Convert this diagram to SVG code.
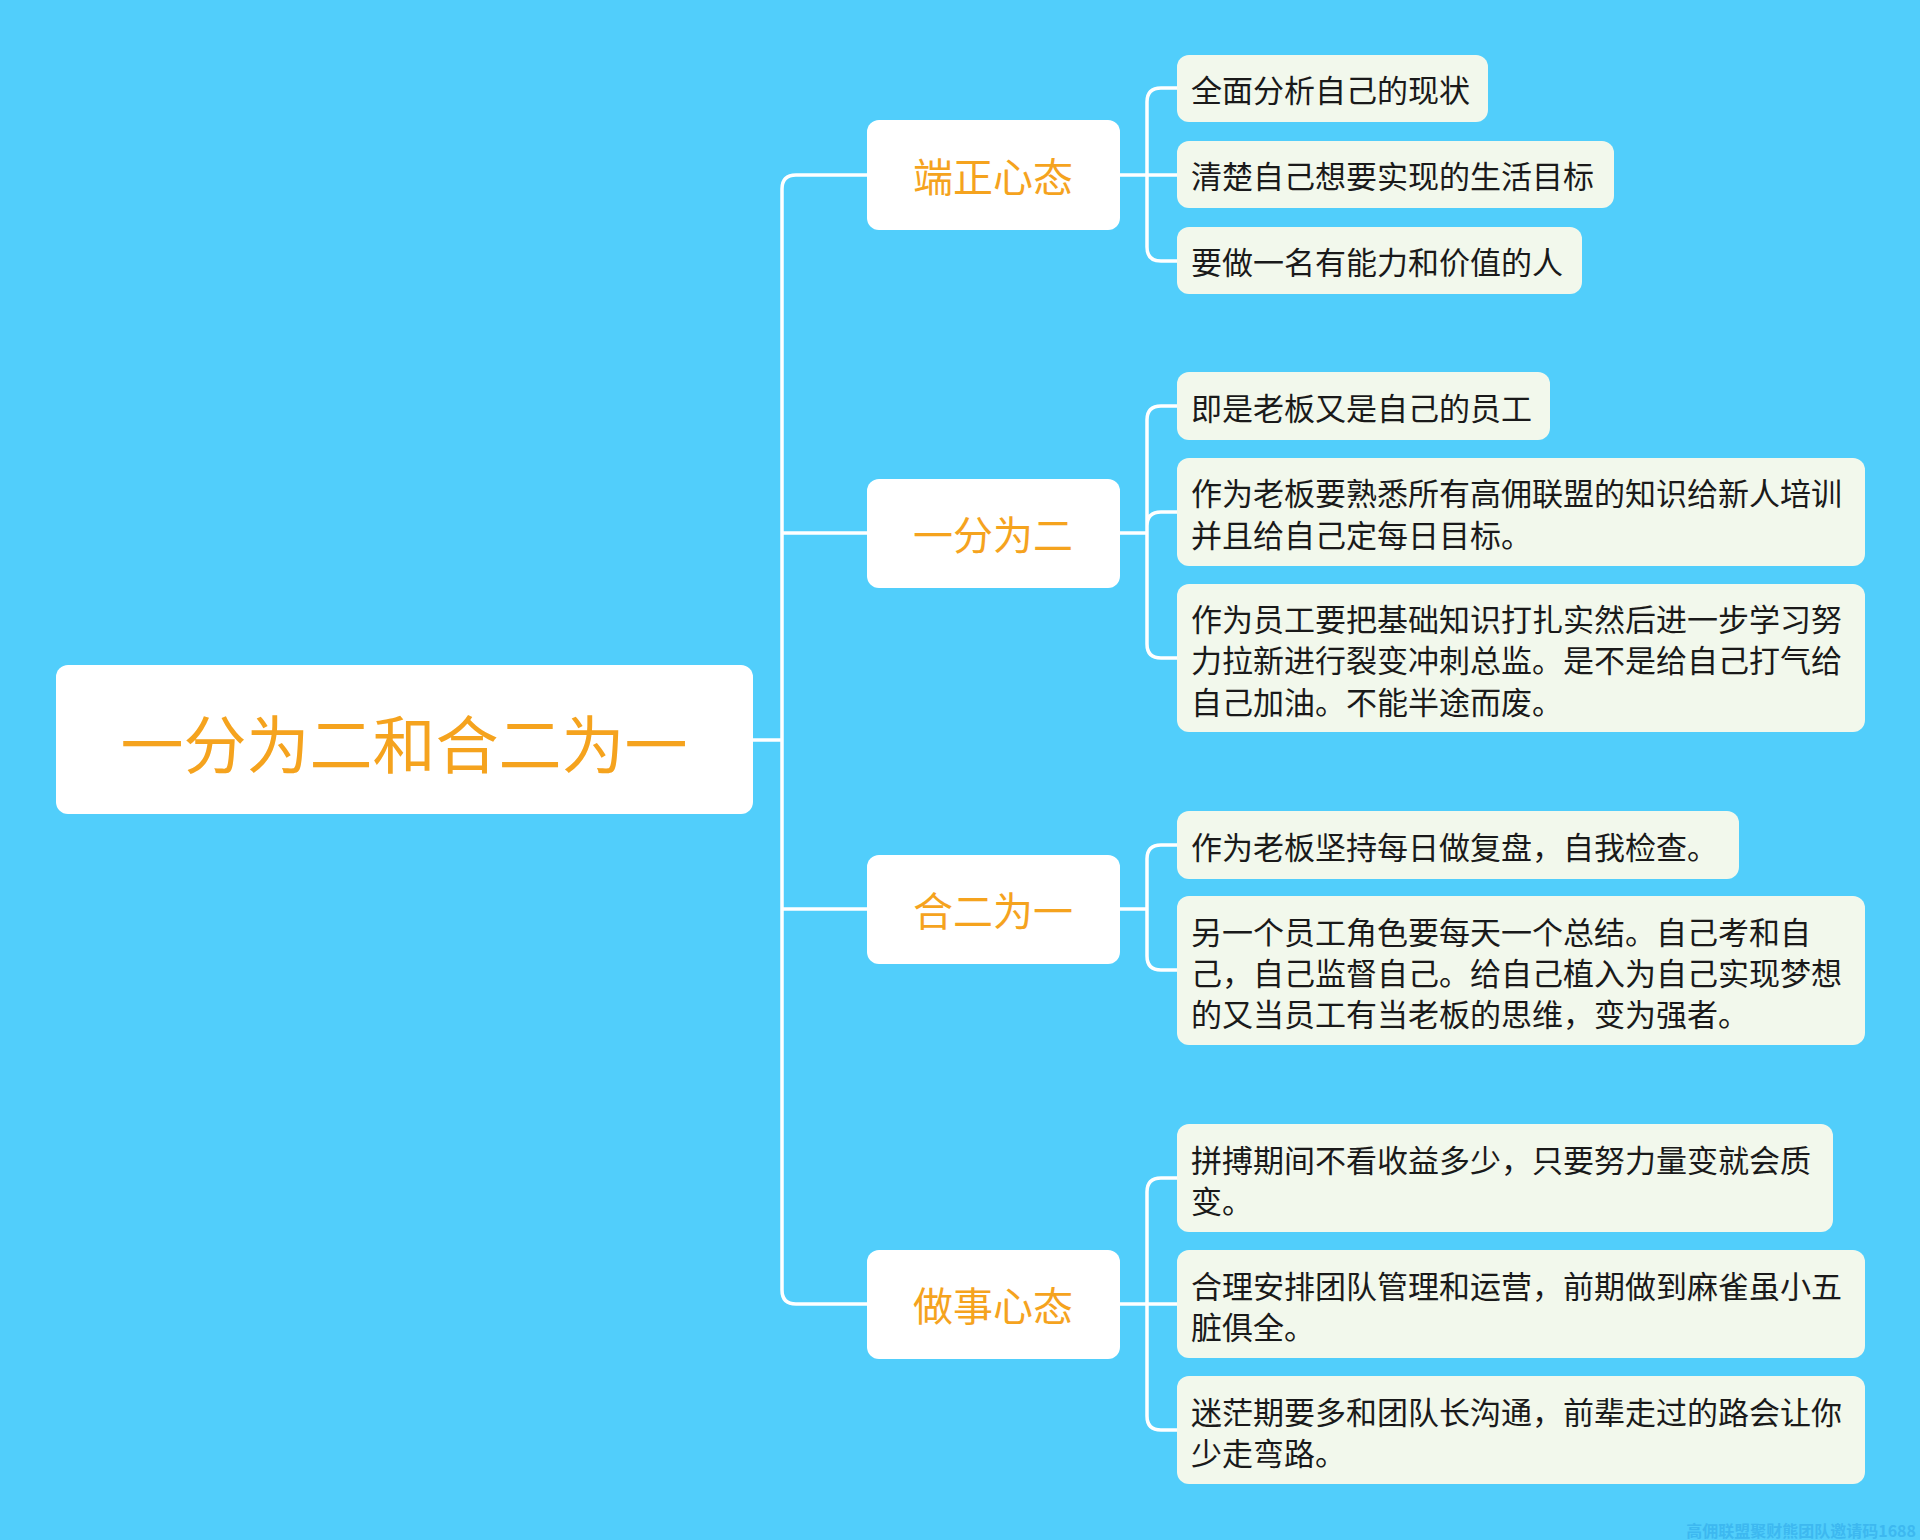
<svg xmlns="http://www.w3.org/2000/svg" width="1920" height="1540" viewBox="0 0 1920 1540">
<style>
.c{fill:none;stroke:#fff;stroke-width:3.5}
.b{fill:#fff}
.l{fill:#F2F8EC}
.bt{font-family:"Noto Sans CJK SC",sans-serif;fill:#F5A31E;text-anchor:middle;dominant-baseline:central}
.lt{font-family:"Noto Sans CJK SC",sans-serif;fill:#1a1a1a;font-size:31px;dominant-baseline:central}
</style>
<rect width="1920" height="1540" fill="#51CEFB"/>
<g id="connectors">
<path class="c" d="M753,740 H782"/>
<path class="c" d="M867,175 H796 Q782,175 782,189 V1290 Q782,1304 796,1304 H867"/>
<path class="c" d="M782,533 H867 M782,909 H867"/>
<path class="c" d="M1120,175 H1147 M1147,175 V102 Q1147,88 1161,88 H1177 M1147,175 H1177 M1147,175 V247 Q1147,261 1161,261 H1177"/>
<path class="c" d="M1120,533 H1147 M1147,533 V420 Q1147,406 1161,406 H1177 M1147,533 V526 Q1147,512 1161,512 H1177 M1147,533 V644 Q1147,658 1161,658 H1177"/>
<path class="c" d="M1120,909 H1147 M1147,909 V859 Q1147,845 1161,845 H1177 M1147,909 V956 Q1147,970 1161,970 H1177"/>
<path class="c" d="M1120,1304 H1147 M1147,1304 V1192 Q1147,1178 1161,1178 H1177 M1147,1304 H1177 M1147,1304 V1416 Q1147,1430 1161,1430 H1177"/>
</g>
<g id="root"><rect class="b" x="56" y="665" width="697" height="149" rx="12"/><text class="bt" x="404" y="740" font-size="63">一分为二和合二为一</text></g>
<g id="b1"><rect class="b" x="867" y="120" width="253" height="110" rx="12"/><text class="bt" x="993" y="175" font-size="40">端正心态</text></g>
<g id="b2"><rect class="b" x="867" y="479" width="253" height="109" rx="12"/><text class="bt" x="993" y="533" font-size="40">一分为二</text></g>
<g id="b3"><rect class="b" x="867" y="855" width="253" height="109" rx="12"/><text class="bt" x="993" y="909" font-size="40">合二为一</text></g>
<g id="b4"><rect class="b" x="867" y="1250" width="253" height="109" rx="12"/><text class="bt" x="993" y="1304" font-size="40">做事心态</text></g>
<g id="l1"><rect class="l" x="1177" y="55" width="311" height="67" rx="12"/><text class="lt" x="1191" y="88">全面分析自己的现状</text></g>
<g id="l2"><rect class="l" x="1177" y="141" width="437" height="67" rx="12"/><text class="lt" x="1191" y="174">清楚自己想要实现的生活目标</text></g>
<g id="l3"><rect class="l" x="1177" y="227" width="405" height="67" rx="12"/><text class="lt" x="1191" y="260">要做一名有能力和价值的人</text></g>
<g id="l4"><rect class="l" x="1177" y="372" width="373" height="68" rx="12"/><text class="lt" x="1191" y="406">即是老板又是自己的员工</text></g>
<g id="l5"><rect class="l" x="1177" y="458" width="688" height="108" rx="12"/><text class="lt" x="1191" y="491">作为老板要熟悉所有高佣联盟的知识给新人培训</text><text class="lt" x="1191" y="533">并且给自己定每日目标。</text></g>
<g id="l6"><rect class="l" x="1177" y="584" width="688" height="148" rx="12"/><text class="lt" x="1191" y="617">作为员工要把基础知识打扎实然后进一步学习努</text><text class="lt" x="1191" y="658">力拉新进行裂变冲刺总监。是不是给自己打气给</text><text class="lt" x="1191" y="700">自己加油。不能半途而废。</text></g>
<g id="l7"><rect class="l" x="1177" y="811" width="562" height="68" rx="12"/><text class="lt" x="1191" y="845">作为老板坚持每日做复盘，自我检查。</text></g>
<g id="l8"><rect class="l" x="1177" y="896" width="688" height="149" rx="12"/><text class="lt" x="1191" y="930">另一个员工角色要每天一个总结。自己考和自</text><text class="lt" x="1191" y="971">己，自己监督自己。给自己植入为自己实现梦想</text><text class="lt" x="1191" y="1012">的又当员工有当老板的思维，变为强者。</text></g>
<g id="l9"><rect class="l" x="1177" y="1124" width="656" height="108" rx="12"/><text class="lt" x="1191" y="1158">拼搏期间不看收益多少，只要努力量变就会质</text><text class="lt" x="1191" y="1199">变。</text></g>
<g id="l10"><rect class="l" x="1177" y="1250" width="688" height="108" rx="12"/><text class="lt" x="1191" y="1284">合理安排团队管理和运营，前期做到麻雀虽小五</text><text class="lt" x="1191" y="1325">脏俱全。</text></g>
<g id="l11"><rect class="l" x="1177" y="1376" width="688" height="108" rx="12"/><text class="lt" x="1191" y="1410">迷茫期要多和团队长沟通，前辈走过的路会让你</text><text class="lt" x="1191" y="1451">少走弯路。</text></g>
<text x="1916" y="1537" text-anchor="end" font-family="Noto Sans CJK SC,sans-serif" font-weight="bold" font-size="16" fill="#3DB8F0">高佣联盟聚财熊团队邀请码1688</text>
</svg>
